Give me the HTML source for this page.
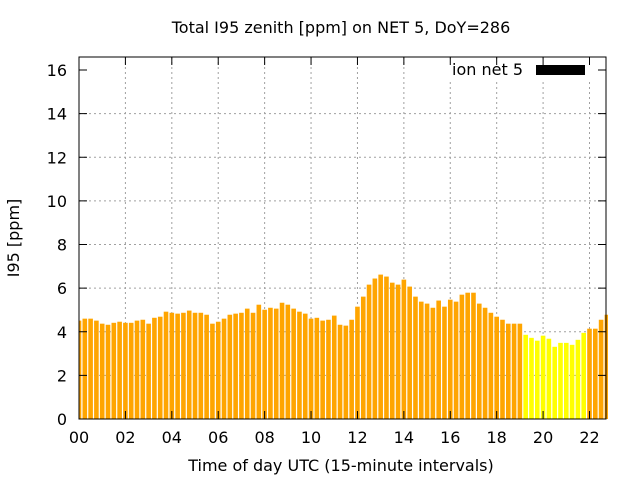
<!DOCTYPE html>
<html><head><meta charset="utf-8"><style>
body{margin:0;background:#fff}
svg{display:block;font-family:"DejaVu Sans","Liberation Sans",sans-serif}
</style></head><body>
<svg id="chart" width="640" height="480">
<rect width="640" height="480" fill="#fff"/>
<text x="341" y="33" font-size="16" text-anchor="middle">Total I95 zenith [ppm] on NET 5, DoY=286</text>
<g id="grid"></g>
<defs><clipPath id="pc"><rect x="79" y="57" width="529" height="362"/></clipPath></defs>
<g id="bars" clip-path="url(#pc)"></g>
<rect x="430" y="60" width="170" height="22" fill="#fff"/>
<g>
<text x="523" y="75" font-size="16" text-anchor="end">ion net 5</text>
<rect x="536" y="65" width="49" height="10" fill="#000"/>
</g>
<g id="axes"></g>
<text x="341" y="471" font-size="16" text-anchor="middle">Time of day UTC (15-minute intervals)</text>
<text transform="translate(19,238) rotate(-90)" font-size="16" text-anchor="middle">I95 [ppm]</text>
</svg>
<script>
const values = [4.51,4.60,4.60,4.51,4.37,4.32,4.41,4.46,4.41,4.41,4.51,4.55,4.37,4.64,4.69,4.92,4.87,4.83,4.87,4.97,4.87,4.87,4.78,4.37,4.46,4.60,4.78,4.83,4.87,5.06,4.87,5.24,5.01,5.10,5.06,5.33,5.24,5.06,4.92,4.83,4.60,4.64,4.51,4.55,4.74,4.32,4.28,
4.55,5.15,5.61,6.16,6.44,6.62,6.53,6.25,6.16,6.39,6.07,5.61,5.38,5.29,5.10,5.43,5.15,5.47,5.38,5.70,5.79,5.79,5.29,5.10,4.87,4.69,4.55,4.37,4.37,4.37,
3.86,3.72,3.59,3.82,3.68,3.31,3.49,3.49,3.40,3.63,3.95,4.14,4.14,4.55,4.78];
const colorFlags = values.map((v,i)=> (i>=77 && i<=87) ? 'y' : 'o');
const yTicks = [0,2,4,6,8,10,12,14,16];
const xTicks = [0,2,4,6,8,10,12,14,16,18,20,22];
const xTickLabels = ['00','02','04','06','08','10','12','14','16','18','20','22'];
const NS='http://www.w3.org/2000/svg';
const L=79,R=606,T=57,B=419;
const xs = h => L + h*(589.5-79)/22;
const ys = v => B - v*(B-70)/16;
function mk(tag,attrs,parent){const e=document.createElementNS(NS,tag);for(const k in attrs)e.setAttribute(k,attrs[k]);parent.appendChild(e);return e;}
const grid=document.getElementById('grid'),bars=document.getElementById('bars'),axes=document.getElementById('axes');
yTicks.forEach(v=>{const y=ys(v);
 if(v>0&&v<16){const g=mk('line',{x1:L,x2:R,y1:y,y2:y,stroke:'#a0a0a0','stroke-dasharray':'2,3'},grid);
 
 }
 mk('line',{x1:L,x2:L+8,y1:y,y2:y,stroke:'#000'},axes);
 mk('line',{x1:R-8,x2:R,y1:y,y2:y,stroke:'#000'},axes);
 const t=mk('text',{x:L-12,y:y+6,'font-size':16,'text-anchor':'end'},axes);t.textContent=v;
 
 
});
xTicks.forEach((h,i)=>{const x=xs(h);
 if(h>0){const g=mk('line',{x1:x,x2:x,y1:T,y2:B,stroke:'#a0a0a0','stroke-dasharray':'2,3'},grid);
 
 }
 mk('line',{x1:x,x2:x,y1:B,y2:B-8,stroke:'#000'},axes);
 mk('line',{x1:x,x2:x,y1:T,y2:T+8,stroke:'#000'},axes);
 const t=mk('text',{x:x,y:B+24,'font-size':16,'text-anchor':'middle'},axes);t.textContent=xTickLabels[i];
 
 
});
values.forEach((v,i)=>{const cx=xs(i*0.25),w=4.6;
 const r=mk('rect',{x:cx-w/2,y:ys(v),width:w,height:B-ys(v),fill:colorFlags[i]==='y'?'#ffff00':'#ffa500'},bars);
 
 
});
mk('rect',{x:L,y:T,width:R-L,height:B-T,fill:'none',stroke:'#000','stroke-width':1},axes);
</script>
</body></html>
